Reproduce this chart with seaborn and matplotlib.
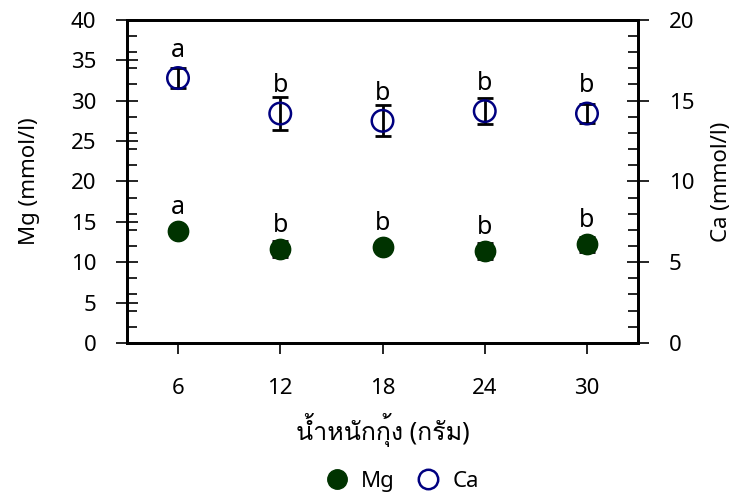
import numpy as np
import pandas as pd
import matplotlib
matplotlib.use("Agg")
import matplotlib.pyplot as plt
from matplotlib import font_manager
from matplotlib.ft2font import FT2Font
from matplotlib.lines import Line2D
from matplotlib.ticker import MultipleLocator
import seaborn as sns

# ==========================================
# DATA
# ==========================================

weights = [6, 12, 18, 24, 30]

mg = [13.8, 11.6, 11.9, 11.4, 12.2]
mg_err = [0.5, 1.0, 0.5, 1.0, 0.9]
mg_letters = ["a", "b", "b", "b", "b"]

ca = [16.4, 14.2, 13.75, 14.35, 14.2]
ca_err = [0.6, 1.0, 0.95, 0.8, 0.6]
ca_letters = ["a", "b", "b", "b", "b"]

df = pd.DataFrame({"weight": weights, "Mg": mg, "Ca": ca})

# ==========================================
# FONT WITH THAI GLYPHS
# ==========================================

sns.set_style("ticks")

thai_font = None
for f in font_manager.fontManager.ttflist:
    try:
        if 0x0E19 in FT2Font(f.fname).get_charmap():
            thai_font = f.name
            break
    except Exception:
        pass

families = ["Noto Sans", "DejaVu Sans"]
if thai_font:
    families = ["Noto Sans", thai_font, "DejaVu Sans"]
plt.rcParams["font.family"] = families
for key in ["text.color", "axes.labelcolor", "xtick.color", "ytick.color"]:
    plt.rcParams[key] = "black"

# ==========================================
# PLOT
# ==========================================

fig = plt.figure(figsize=(7.42, 4.97), dpi=100)
ax = fig.add_axes([0.171, 0.31, 0.689, 0.65])
ax2 = ax.twinx()

green = "#003300"
navy = "#000080"

ax.errorbar(df["weight"], df["Mg"], yerr=mg_err, fmt="none", ecolor="black",
            elinewidth=2, capsize=6, capthick=2, zorder=2)
sns.scatterplot(data=df, x="weight", y="Mg", ax=ax, s=210, color=green,
                edgecolor=green, zorder=3)

ax2.errorbar(df["weight"], df["Ca"], yerr=ca_err, fmt="none", ecolor="black",
             elinewidth=2, capsize=6, capthick=2, zorder=2)
sns.scatterplot(data=df, x="weight", y="Ca", ax=ax2, s=240, facecolor="none",
                edgecolor=navy, linewidth=1.8, zorder=3)

for x, y, t in zip(weights, mg, mg_letters):
    ax.annotate(t, (x, y), xytext=(0, 17), textcoords="offset points",
                ha="center", va="center", fontsize=18)
for x, y, t in zip(weights, ca, ca_letters):
    ax2.annotate(t, (x, y), xytext=(0, 20), textcoords="offset points",
                 ha="center", va="center", fontsize=18)

# axes ranges and ticks
ax.set_xlim(3, 33)
ax.set_ylim(0, 40)
ax2.set_ylim(0, 20)
ax.set_xticks(weights)
ax.yaxis.set_major_locator(MultipleLocator(5))
ax.yaxis.set_minor_locator(MultipleLocator(2))
ax2.yaxis.set_major_locator(MultipleLocator(5))
ax2.yaxis.set_minor_locator(MultipleLocator(1))

ax.tick_params(axis="y", which="major", direction="inout", length=16, width=1.2,
               labelsize=16, pad=14)
ax.tick_params(axis="y", which="minor", direction="in", length=7, width=1.2)
ax.tick_params(axis="x", which="major", direction="out", length=8, width=1.2,
               labelsize=16, pad=17)
ax2.tick_params(axis="y", which="major", direction="inout", length=16, width=1.2,
                labelsize=16, pad=14)
ax2.tick_params(axis="y", which="minor", direction="in", length=7, width=1.2)

for a in (ax, ax2):
    for s in a.spines.values():
        s.set_linewidth(2)
        s.set_color("black")

ax.set_xlabel("น้ำหนักกุ้ง (กรัม)", fontsize=18, labelpad=10)
ax.set_ylabel("Mg (mmol/l)", fontsize=16, labelpad=22)
ax2.set_ylabel("Ca (mmol/l)", fontsize=16, labelpad=12)

# legend
handles = [
    Line2D([], [], marker="o", linestyle="none", markersize=14,
           markerfacecolor=green, markeredgecolor=green),
    Line2D([], [], marker="o", linestyle="none", markersize=14,
           markerfacecolor="none", markeredgecolor=navy, markeredgewidth=1.8),
]
fig.legend(handles, ["Mg", "Ca"], loc="lower center", ncol=2, frameon=False,
           bbox_to_anchor=(0.535, -0.03), fontsize=16, handletextpad=0.1,
           columnspacing=0.5)

plt.savefig("out.png", dpi=100)
